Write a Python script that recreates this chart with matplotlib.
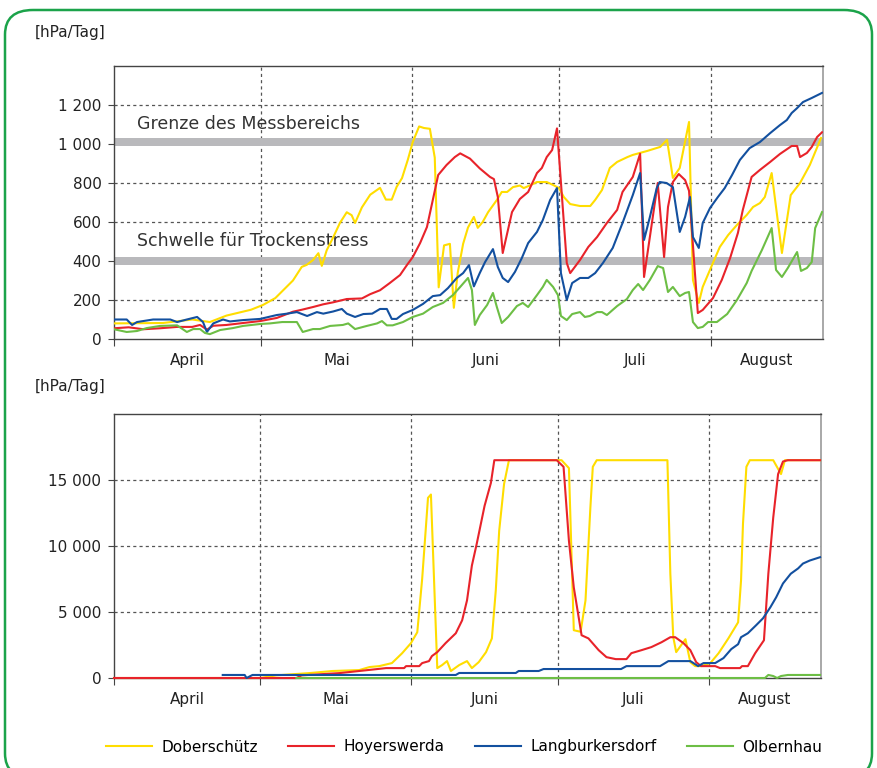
import matplotlib
matplotlib.use("Agg")
import matplotlib.pyplot as plt
from matplotlib.patches import FancyBboxPatch
from matplotlib.ticker import FixedLocator, NullFormatter

plt.rcParams["font.family"] = ["DejaVu Sans"]

# ── Data: day since 1 April, value ───────────────────────────────────────────
stations = ["Doberschütz", "Hoyerswerda", "Langburkersdorf", "Olbernhau"]
colors = ["#FFDD00", "#E8232A", "#13509F", "#6DBE45"]

# top panel (hPa/Tag)
dob_d = [0, 10, 16, 19.6, 23, 28, 30.5, 33, 34.6, 36.6, 38.4, 39.4, 40.7, 41.8, 42.5, 43.5,
         44.8, 46.2, 47.6, 48.6, 49.3, 50.7, 52.4, 54.4, 55.6, 56.8, 57.8, 58.9, 60.1, 61.1,
         62.4, 63.4, 64.6, 65.6, 66.4, 67.5, 68.7, 69.5, 70.3, 71.4, 72.4, 73.6, 74.4, 75.4,
         76.5, 78.3, 79.3, 80.4, 81.6, 83, 83.8, 85, 86.5, 88.5, 89.8, 91, 92, 93.3, 95.3,
         97.4, 98.4, 99.8, 101.4, 102.9, 105, 106.1, 109, 111.7, 113.1, 114.3, 115.7, 117.6,
         118.4, 119.6, 120.4, 122.3, 123.9, 125.6, 127.4, 129.4, 130.7, 132.1, 133.1, 134.5,
         136.6, 138.4, 140.3, 142.3, 144.6]
dob_v = [80, 82, 100, 87, 120, 150, 175, 210, 250, 300, 370, 380, 405, 440, 375, 455,
         520, 595, 650, 635, 595, 675, 740, 775, 715, 715, 780, 825, 920, 1010,
         1090, 1082, 1078, 930, 265, 480, 488, 160, 340, 488, 572, 626, 570, 600,
         650, 713, 754, 754, 779, 787, 774, 787, 805, 805, 790, 774, 728, 692, 682,
         682, 713, 764, 877, 908, 933, 944, 964, 985, 1021, 826, 877, 1113,
         303, 185, 267, 379, 472, 533, 585, 636, 677, 697, 728, 851,
         441, 738, 800, 892, 1031]

hoy_d = [0, 3, 6, 9.4, 12.9, 16, 17.6, 19, 20.3, 23, 26.4, 29.9, 33.3, 36.6, 38.4, 40.7,
         42.8, 44.8, 47.6, 50.7, 52.4, 54.4, 56.4, 58.5, 59.9, 61.1, 62.6, 64, 65.2, 66.3,
         68, 69.7, 70.8, 72.8, 74.8, 76.9, 77.7, 78.5, 79.5, 81.4, 83, 84.7, 86.5, 87.5,
         88.5, 89.6, 90.6, 92.6, 93.3, 95.3, 97, 98.8, 100.8, 102.9, 104, 106.1, 107.6,
         108.4, 111.2, 112.5, 113.3, 114.3, 115.5, 116.8, 117.6, 119.4, 120.4, 122.5,
         124.3, 126, 127.6, 128.6, 130.4, 132.1, 134.2, 136.2, 138.6, 139.7, 140.3, 141.7,
         142.7, 143.8, 144.8]
hoy_v = [55, 60, 50, 55, 62, 62, 72, 48, 68, 72, 82, 92, 108, 140, 150, 164,
         178, 188, 205, 208, 230, 250, 287, 328, 379, 420, 492, 574, 713, 841,
         892, 933, 952, 925, 875, 831, 820, 728, 441, 651, 718, 754, 851, 877,
         933, 969, 1080, 390, 338, 405, 472, 523, 595, 662, 754, 831, 950,
         318, 800, 420, 677, 805, 846, 815, 760, 133, 149, 210,
         303, 415, 544, 662, 831, 867, 908, 949, 990, 990, 933, 954,
         985, 1036, 1060]

lan_d = [0, 2.6, 3.7, 4.7, 8, 11.5, 12.9, 14.9, 17, 18.2, 19, 20.3, 22.3, 23.7, 26.4,
         29.9, 33.3, 35.4, 37.4, 39.5, 41.5, 42.8, 44.8, 46.6, 47.6, 49.3, 51, 52.8, 54.4,
         55.8, 56.8, 57.8, 59.1, 61.1, 63.2, 65.2, 66.7, 68.3, 70.1, 71.4, 72.6, 73.6,
         74.8, 75.9, 77.5, 78.5, 79.5, 80.6, 82, 83.4, 84.7, 86.5, 87.7, 89.2, 90.6, 91.4,
         92.6, 93.7, 95.3, 97, 98.4, 100, 102, 104, 106.1, 107.6, 108.4, 109.6, 111,
         111.6, 113, 114.3, 115.7, 116.8, 117.8, 118.4, 119.6, 120.4, 121.9, 123.5, 124.9,
         126.4, 128, 130, 132.1, 134.2, 136.2, 137.6, 138.6, 139.7, 140.9, 142.7, 144.8]
lan_v = [100, 100, 72, 87, 100, 100, 87, 100, 113, 87, 36, 80, 100, 90, 97,
         103, 123, 130, 138, 118, 138, 130, 141, 154, 130, 113, 128, 130, 154,
         154, 103, 103, 128, 149, 180, 220, 225, 261, 313, 338, 379, 270,
         338, 395, 461, 369, 313, 292, 344, 415, 492, 549, 610, 713, 774, 338,
         200, 287, 313, 313, 338, 390, 467, 595, 738, 851, 508, 626, 774,
         805, 800, 779, 549, 626, 728, 523, 467, 595, 672, 728, 774,
         841, 918, 979, 1010, 1056, 1097, 1123, 1159, 1184, 1215, 1236, 1262]

olb_d = [0, 2.6, 4.7, 6.7, 9.4, 12.9, 14.9, 16.2, 17.6, 18.6, 19.6, 21.7, 24.3, 26.4,
         29.9, 31.9, 34.4, 37.4, 38.6, 40.7, 42.1, 44.2, 46.8, 47.9, 49.3, 51.7, 53.8,
         54.8, 55.8, 57, 59.1, 61.1, 63.2, 65.2, 67.3, 69.3, 70.8, 72.4, 73.2, 73.8, 74.8,
         76.3, 77.5, 78.3, 79.3, 80.6, 82.4, 83.6, 84.7, 86.5, 87.7, 88.5, 89.8, 90.8,
         91.4, 92.6, 93.7, 95.3, 96.3, 97.3, 98.8, 99.8, 100.8, 102.9, 104.9, 106.1,
         107.2, 108.2, 109.6, 111.2, 112.3, 113.3, 114.3, 115.7, 116.8, 117.6, 118.4,
         119.4, 120.4, 121.5, 123.3, 125.4, 127.4, 129.4, 130.4, 132.5, 134.5, 135.4,
         136.6, 137.8, 139.7, 140.5, 141.7, 142.7, 143.4, 144.8]
olb_v = [50, 36, 41, 56, 67, 70, 36, 51, 51, 31, 25, 46, 56, 67,
         77, 80, 87, 87, 36, 51, 51, 67, 72, 80, 51, 67, 80,
         92, 70, 70, 87, 113, 130, 164, 185, 225, 267, 313, 251, 72, 123,
         174, 236, 164, 82, 113, 169, 185, 164, 225, 267, 303, 267, 225,
         118, 97, 128, 138, 113, 118, 138, 138, 123, 169, 205, 251,
         282, 251, 303, 374, 364, 241, 267, 220, 236, 241, 87,
         56, 62, 87, 87, 128, 200, 287, 349, 456, 569, 354,
         318, 364, 446, 349, 364, 395, 569, 651]

# bottom panel (hPa/Tag)
dob2_d = [0, 30, 33.3, 40, 44.8, 50.3, 52.4, 54.4, 57, 59.1, 60.9, 62.2, 63.2, 64.4, 65,
          66.3, 67.3, 68.3, 69.1, 70.8, 72.4, 73.4, 74.8, 76.3, 77.5, 78.3, 79, 80, 81,
          91.8, 93.3, 94.3, 95.7, 96.7, 97.7, 98.2, 99, 113.5, 114.1, 114.7, 115.3, 117.2,
          118.2, 119.2, 120.4, 122.3, 124, 126, 128, 128.6, 129, 129.7, 130.4, 135.2,
          136.8, 137.6, 144.8]
dob2_v = [0, 0, 200, 370, 530, 600, 830, 900, 1130, 1880, 2640, 3470, 7500, 13650, 13900,
          750, 980, 1280, 530, 980, 1280, 750, 1200, 1960, 3000, 6640, 11160, 14700, 16500,
          16500, 15900, 3620, 3500, 5880, 12900, 16000, 16500, 16500, 7900, 3100, 1960, 2940,
          1200, 900, 900, 1130, 1880, 3000, 4220, 7390, 11690, 16000, 16500, 16500,
          15450, 16500, 16500]

hoy2_d = [0, 37.4, 38.5, 46.2, 50.3, 55.8, 59.5, 59.9, 62.6, 63.2, 64.6, 65.2, 66.3, 68,
          70.1, 71.4, 72.4, 73.4, 74.4, 76, 77.3, 78, 90.8, 92.2, 93.3, 94.3, 95.9, 97.3,
          99.4, 101, 102.9, 105.1, 106.1, 108.2, 110.2, 112.3, 114.1, 115.1, 116.8, 118.2,
          119.4, 120.4, 123.3, 124.3, 128.4, 128.8, 130, 131.5, 133.3, 134.2, 135.2, 136.2,
          137.2, 138.2, 144.8]
hoy2_v = [0, 0, 200, 370, 530, 750, 750, 900, 900, 1130, 1280, 1660, 1960, 2640,
          3390, 4370, 5880, 8520, 10180, 13040, 14780, 16500, 16500, 16000, 10400, 6860, 3240, 3000,
          2110, 1580, 1430, 1430, 1880, 2110, 2340, 2710, 3090, 3090, 2640, 2110,
          1200, 900, 900, 750, 750, 900, 900, 1880, 2860, 7900, 12140, 15450,
          16400, 16500, 16500]

lan2_d = [22.3, 26.8, 27.2, 28.4, 70.1, 70.8, 82.4, 83, 87.1, 88.1, 104, 105.1, 112, 113.7,
          118.2, 119.8, 120.9, 123.3, 125, 126.6, 128, 128.6, 130, 131.7, 133.1, 134.6,
          135.8, 137.2, 138.8, 140.3, 141.3, 142.7, 144.8]
lan2_v = [230, 230, 0, 230, 230, 380, 380, 530, 530, 680, 680, 900, 900, 1280,
          1280, 900, 1130, 1130, 1510, 2190, 2560, 3090, 3390, 4000, 4520, 5350,
          6110, 7160, 7900, 8300, 8670, 8900, 9150]

olb2_d = [37.4, 133.5, 134.2, 135.2, 136, 136.8, 138.2, 144.8]
olb2_v = [0, 0, 230, 150, 0, 150, 230, 230]

months = ["April", "Mai", "Juni", "Juli", "August"]
month_start = [0, 30, 61, 91, 122]
x_end = 145

top_ticks = [0, 200, 400, 600, 800, 1000, 1200]
top_labels = ["0", "200", "400", "600", "800", "1 000", "1 200"]
bot_ticks = [0, 5000, 10000, 15000]
bot_labels = ["0", "5 000", "10 000", "15 000"]

top_series = [(dob_d, dob_v), (hoy_d, hoy_v), (lan_d, lan_v), (olb_d, olb_v)]
bot_series = [(dob2_d, dob2_v), (hoy2_d, hoy2_v), (lan2_d, lan2_v), (olb2_d, olb2_v)]

# ── Figure ────────────────────────────────────────────────────────────────────
fig = plt.figure(figsize=(8.77, 7.68), dpi=100)

frame = FancyBboxPatch((5 / 877, -10 / 768), 867 / 877, 768 / 768,
                       boxstyle="round,pad=0,rounding_size=0.032",
                       transform=fig.transFigure, facecolor="none",
                       edgecolor="#1BA34A", linewidth=1.8, zorder=-5)
fig.patches.append(frame)

ax1 = fig.add_axes([114 / 877, 1 - 339 / 768, 709 / 877, 273 / 768])
ax2 = fig.add_axes([114 / 877, 1 - 678 / 768, 707 / 877, 264 / 768])

FS = 11


def style_axis(ax, ymax, ticks, labels):
    ax.set_xlim(0, x_end)
    ax.set_ylim(0, ymax)
    ax.patch.set_alpha(0)
    ax.yaxis.set_major_locator(FixedLocator(ticks))
    ax.set_yticklabels(labels, fontsize=FS, color="#222222")
    ax.tick_params(axis="y", length=4, width=0.8, color="#444444", pad=5)
    ax.xaxis.set_major_locator(FixedLocator(month_start))
    ax.xaxis.set_major_formatter(NullFormatter())
    mids = [(month_start[i] + (month_start[i + 1] if i + 1 < len(month_start) else x_end)) / 2
            for i in range(len(month_start))]
    ax.xaxis.set_minor_locator(FixedLocator(mids))
    ax.set_xticklabels(months, minor=True, fontsize=FS, color="#222222")
    ax.tick_params(axis="x", which="major", length=5, width=0.8, color="#444444")
    ax.tick_params(axis="x", which="minor", length=0, pad=10)
    for t in ticks[1:]:
        ax.axhline(t, color="#555555", lw=0.9, ls=(0, (2.5, 2.5)), zorder=1)
    for m in month_start[1:]:
        ax.axvline(m, color="#555555", lw=0.9, ls=(0, (2.5, 2.5)), zorder=1)
    for side in ["top", "bottom", "left"]:
        ax.spines[side].set_color("#444444")
        ax.spines[side].set_linewidth(1.0)
    ax.spines["right"].set_color("#999999")
    ax.spines["right"].set_linewidth(1.2)


style_axis(ax1, 1400, top_ticks, top_labels)
style_axis(ax2, 20000, bot_ticks, bot_labels)

# threshold bands
ax1.axhspan(990, 1030, color="#B9B9BC", lw=0, zorder=2)
ax1.axhspan(380, 420, color="#B9B9BC", lw=0, zorder=2)
ax1.text(4.7, 1105, "Grenze des Messbereichs", fontsize=12.5, va="center", color="#333333", zorder=3)
ax1.text(4.7, 505, "Schwelle für Trockenstress", fontsize=12.5, va="center", color="#333333", zorder=3)

for (d, v), c in zip(top_series, colors):
    ax1.plot(d, v, color=c, lw=1.5, zorder=4)

for (d, v), c, name in zip(bot_series, colors, stations):
    ax2.plot(d, v, color=c, lw=1.5, zorder=4, label=name, clip_on=False)

fig.text(35 / 877, 1 - 33 / 768, "[hPa/Tag]", fontsize=FS, va="center", color="#222222")
fig.text(35 / 877, 1 - 387 / 768, "[hPa/Tag]", fontsize=FS, va="center", color="#222222")

fig.legend(loc="center", bbox_to_anchor=(464 / 877, 1 - 747 / 768), ncol=4, frameon=False,
           fontsize=11, handlelength=3.0, handletextpad=0.6, columnspacing=2.0)

fig.savefig("out.png", dpi=100)
